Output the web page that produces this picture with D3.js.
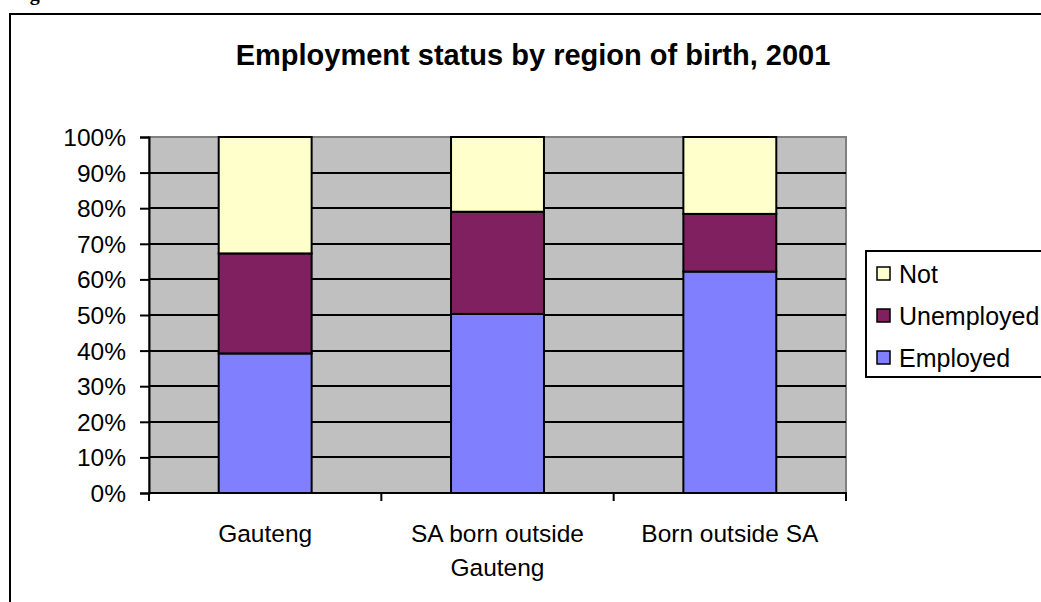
<!DOCTYPE html>
<html>
<head>
<meta charset="utf-8">
<script src="https://cdn.jsdelivr.net/npm/d3@7"></script>
<style>
  html, body { margin: 0; padding: 0; background: #fff; }
  svg { display: block; }
  text { font-family: "Liberation Sans", Arial, sans-serif; fill: #000; }
</style>
</head>
<body>
<svg id="chart" width="1041" height="602"></svg>
<script>
// ---- data ----
const categories = ["Gauteng", "SA born outside Gauteng", "Born outside SA"];
const categoryLines = [["Gauteng"], ["SA born outside", "Gauteng"], ["Born outside SA"]];
const seriesNames = ["Employed", "Unemployed", "Not"];
const employed = [39.2, 50.3, 62.2];
const unemployed = [28.1, 28.7, 16.2];
const notActive = [32.7, 21.0, 21.6];
const yTicks = [0, 10, 20, 30, 40, 50, 60, 70, 80, 90, 100];
const seriesColors = ["#8080FF", "#802060", "#FFFFCC"];
const titleText = "Employment status by region of birth, 2001";

// ---- build ----
const svg = d3.select("#chart");
const plot = { left: 149, right: 846, top: 137, bottom: 493 };

// fragment of text above the chart frame (clipped by the page top, as in the reference)
svg.append("text").attr("x", 12).attr("y", 0)
  .style("font-family", "'Liberation Serif', serif").style("font-weight", "bold")
  .style("font-size", "20px").text("Figure");

// outer chart frame
svg.append("rect").attr("x", 10).attr("y", 14).attr("width", 1200).attr("height", 800)
  .attr("fill", "#fff").attr("stroke", "#000").attr("stroke-width", 2);

svg.append("text").attr("x", 533).attr("y", 65).attr("text-anchor", "middle")
  .style("font-weight", "bold").style("font-size", "29px").text(titleText);

const x = d3.scaleBand().domain(categories).range([plot.left, plot.right])
  .paddingInner(0.6).paddingOuter(0.3);
const xCat = d3.scaleBand().domain(categories).range([plot.left, plot.right]).padding(0);
const y = d3.scaleLinear().domain([0, 100]).range([plot.bottom, plot.top]);

// plot background
svg.append("rect").attr("x", plot.left).attr("y", plot.top)
  .attr("width", plot.right - plot.left).attr("height", plot.bottom - plot.top)
  .attr("fill", "#C0C0C0").attr("stroke", "#808080").attr("stroke-width", 2);

// gridlines
svg.append("g").selectAll("line").data(yTicks.filter(d => d > 0 && d < 100)).join("line")
  .attr("x1", plot.left).attr("x2", plot.right)
  .attr("y1", d => Math.round(y(d))).attr("y2", d => Math.round(y(d)))
  .attr("stroke", "#000").attr("stroke-width", 2);

// stacked bars
const table = categories.map((c, i) => ({ cat: c, Employed: employed[i], Unemployed: unemployed[i], Not: notActive[i] }));
const stacked = d3.stack().keys(seriesNames)(table);
svg.append("g").selectAll("g").data(stacked).join("g")
  .attr("fill", (d, i) => seriesColors[i])
  .selectAll("rect").data(d => d).join("rect")
  .attr("x", d => x(d.data.cat)).attr("width", x.bandwidth())
  .attr("y", d => y(d[1])).attr("height", d => y(d[0]) - y(d[1]))
  .attr("stroke", "#000").attr("stroke-width", 2);

// y axis
const yAxis = svg.append("g").attr("transform", `translate(${plot.left},0)`)
  .call(d3.axisLeft(y).tickValues(yTicks).tickFormat(d => d + "%").tickSize(9).tickPadding(14));
yAxis.select(".domain").attr("stroke", "#000").attr("stroke-width", 2);
yAxis.selectAll(".tick line").attr("stroke", "#000").attr("stroke-width", 2);
yAxis.selectAll(".tick text").style("font-size", "24.5px")
  .style("font-family", "'Liberation Sans', Arial, sans-serif").attr("dy", "0.35em");

// x axis line and category ticks
svg.append("line").attr("x1", plot.left - 1).attr("x2", plot.right + 1)
  .attr("y1", plot.bottom).attr("y2", plot.bottom).attr("stroke", "#000").attr("stroke-width", 2);
const tickXs = categories.map(c => xCat(c)).concat([plot.right]);
svg.append("g").selectAll("line").data(tickXs).join("line")
  .attr("x1", d => d).attr("x2", d => d).attr("y1", plot.bottom).attr("y2", plot.bottom + 8)
  .attr("stroke", "#000").attr("stroke-width", 2);

// category labels
const labels = svg.append("g").selectAll("text").data(categories).join("text")
  .attr("text-anchor", "middle").style("font-size", "24.5px")
  .attr("x", d => xCat(d) + xCat.bandwidth() / 2).attr("y", 542);
labels.each(function (d, i) {
  const t = d3.select(this);
  categoryLines[i].forEach((ln, j) => {
    t.append("tspan").attr("x", xCat(d) + xCat.bandwidth() / 2).attr("y", 542 + j * 34).text(ln);
  });
});

// legend
const legend = svg.append("g");
legend.append("rect").attr("x", 866).attr("y", 251).attr("width", 300).attr("height", 126)
  .attr("fill", "#fff").attr("stroke", "#000").attr("stroke-width", 2);
const legendOrder = [2, 1, 0];
legendOrder.forEach((si, k) => {
  const cy = 274 + k * 42;
  legend.append("rect").attr("x", 877).attr("y", cy - 7).attr("width", 13).attr("height", 13)
    .attr("fill", seriesColors[si]).attr("stroke", "#000").attr("stroke-width", 1.5);
  legend.append("text").attr("x", 899).attr("y", cy + 9).style("font-size", "25px").text(seriesNames[si]);
});
</script>
</body>
</html>
